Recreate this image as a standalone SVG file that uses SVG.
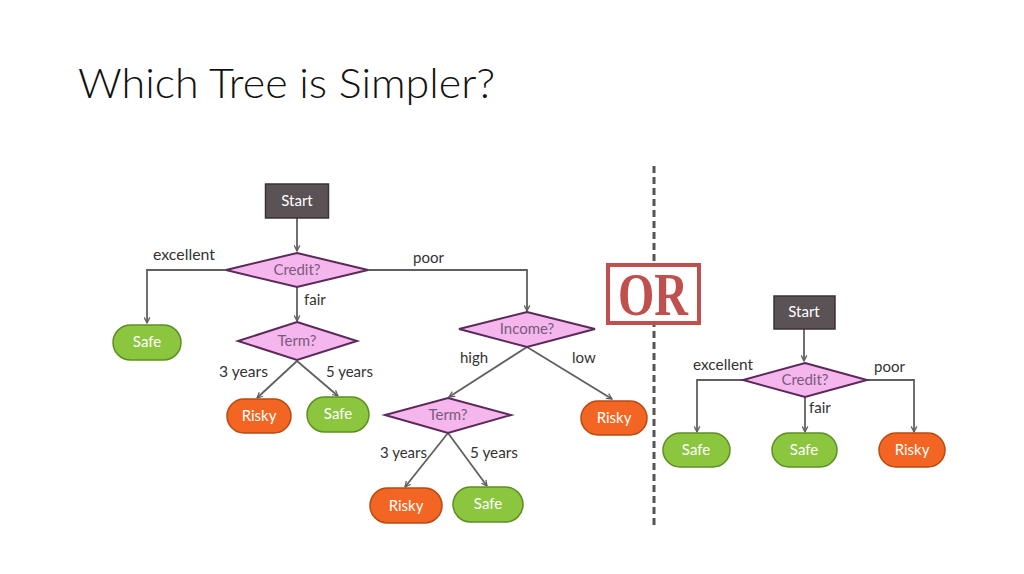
<svg xmlns="http://www.w3.org/2000/svg" width="1024" height="574" viewBox="0 0 1024 574">
<style>
.t{font-family:Lato,"Open Sans","Liberation Sans",sans-serif}
.start rect{fill:#5a5254;stroke:#3a3436;stroke-width:1.5}
.start text{fill:#fff;font-size:15px;text-anchor:middle}
.dia polygon{fill:#f5b6ee;stroke:#5a2a58;stroke-width:2}
.dia text{fill:#7a5a7a;font-size:15px;text-anchor:middle}
.safe rect{fill:#8cc63f;stroke:#5e8f22;stroke-width:1.5}
.risky rect{fill:#f26522;stroke:#b84a12;stroke-width:1.5}
.safe text,.risky text{fill:#fff;font-size:15px;text-anchor:middle}
.lbl{fill:#333;font-size:15px}
#connectors path{fill:none;stroke:#606060;stroke-width:1.8;marker-end:url(#ah)}
</style>
<defs>
<marker id="ah" viewBox="0 0 10 10" refX="9" refY="5" markerWidth="7" markerHeight="7" orient="auto" markerUnits="userSpaceOnUse">
<path d="M1,1 L9,5 L1,9" fill="none" stroke="#606060" stroke-width="1.8"/>
</marker>
</defs>
<rect width="1024" height="574" fill="#fff"/>
<text class="t" x="78" y="98" font-size="42" font-weight="300" fill="#111" textLength="417" lengthAdjust="spacingAndGlyphs">Which Tree is Simpler?</text>

<g id="connectors">
<path d="M297,218 V251"/>
<path d="M226,270 H147 V323"/>
<path d="M368,270 H527 V311"/>
<path d="M297,287 V321"/>
<path d="M297,361 L257,398"/>
<path d="M297,361 L338,396"/>
<path d="M527,347 L449,397"/>
<path d="M527,347 L612,399"/>
<path d="M448,433 L405,487"/>
<path d="M448,433 L487,486"/>
<path d="M804,329 V361"/>
<path d="M743,380 H697 V432"/>
<path d="M805,397 V432"/>
<path d="M867,380 H914 V432"/>
</g>

<g id="labels" class="t">
<text class="lbl" x="153" y="260" textLength="62" lengthAdjust="spacingAndGlyphs">excellent</text>
<text class="lbl" x="413" y="263">poor</text>
<text class="lbl" x="304" y="305">fair</text>
<text class="lbl" x="219" y="377" textLength="49" lengthAdjust="spacingAndGlyphs">3 years</text>
<text class="lbl" x="326" y="377" font-size="13.5">5 years</text>
<text class="lbl" x="460" y="363">high</text>
<text class="lbl" x="572" y="363">low</text>
<text class="lbl" x="380" y="458" textLength="47" lengthAdjust="spacingAndGlyphs">3 years</text>
<text class="lbl" x="470" y="458" textLength="48" lengthAdjust="spacingAndGlyphs">5 years</text>
<text class="lbl" x="693" y="370" textLength="60" lengthAdjust="spacingAndGlyphs">excellent</text>
<text class="lbl" x="874" y="372">poor</text>
<text class="lbl" x="809" y="413">fair</text>
</g>

<line x1="654" y1="166" x2="654" y2="528" stroke="#555" stroke-width="3" stroke-dasharray="7,4"/>
<g id="or">
<rect x="608" y="265" width="91" height="58" fill="#fff" stroke="#c0504d" stroke-width="4"/>
<text x="653" y="315" font-family="'Liberation Serif',serif" font-weight="bold" font-size="62" fill="#c0504d" text-anchor="middle" textLength="70" lengthAdjust="spacingAndGlyphs">OR</text>
</g>

<g id="start1" class="start t"><rect x="265.5" y="184" width="63" height="34"/><text x="297" y="206">Start</text></g>
<g id="credit1" class="dia t"><polygon points="297,253 368,270 297,287 226,270"/><text x="297" y="275">Credit?</text></g>
<g id="safe1" class="safe t"><rect x="113" y="325" width="68" height="35" rx="17.5"/><text x="147" y="347">Safe</text></g>
<g id="term1" class="dia t"><polygon points="297,322 357,341 297,360 238,341"/><text x="297" y="346">Term?</text></g>
<g id="risky1" class="risky t"><rect x="227" y="399" width="64" height="34" rx="17"/><text x="259" y="421">Risky</text></g>
<g id="safe2" class="safe t"><rect x="307" y="397" width="62" height="35" rx="17.5"/><text x="338" y="419">Safe</text></g>
<g id="income" class="dia t"><polygon points="527,312 595,329 527,347 459,329"/><text x="527" y="334">Income?</text></g>
<g id="term2" class="dia t"><polygon points="448,398 511,415 448,433 385,415"/><text x="448" y="420">Term?</text></g>
<g id="risky2" class="risky t"><rect x="581" y="401" width="66" height="34" rx="17"/><text x="614" y="423">Risky</text></g>
<g id="risky3" class="risky t"><rect x="370" y="488" width="72" height="35" rx="17.5"/><text x="406" y="511">Risky</text></g>
<g id="safe3" class="safe t"><rect x="453" y="487" width="70" height="35" rx="17.5"/><text x="488" y="509">Safe</text></g>

<g id="start2" class="start t"><rect x="774" y="296" width="61" height="33"/><text x="804" y="317">Start</text></g>
<g id="credit2" class="dia t"><polygon points="805,363 867,380 805,397 743,380"/><text x="805" y="385">Credit?</text></g>
<g id="safe4" class="safe t"><rect x="663" y="433" width="67" height="34" rx="17"/><text x="696" y="455">Safe</text></g>
<g id="safe5" class="safe t"><rect x="772" y="433" width="65" height="34" rx="17"/><text x="804" y="455">Safe</text></g>
<g id="risky4" class="risky t"><rect x="879" y="433" width="66" height="34" rx="17"/><text x="912" y="455">Risky</text></g>
</svg>
